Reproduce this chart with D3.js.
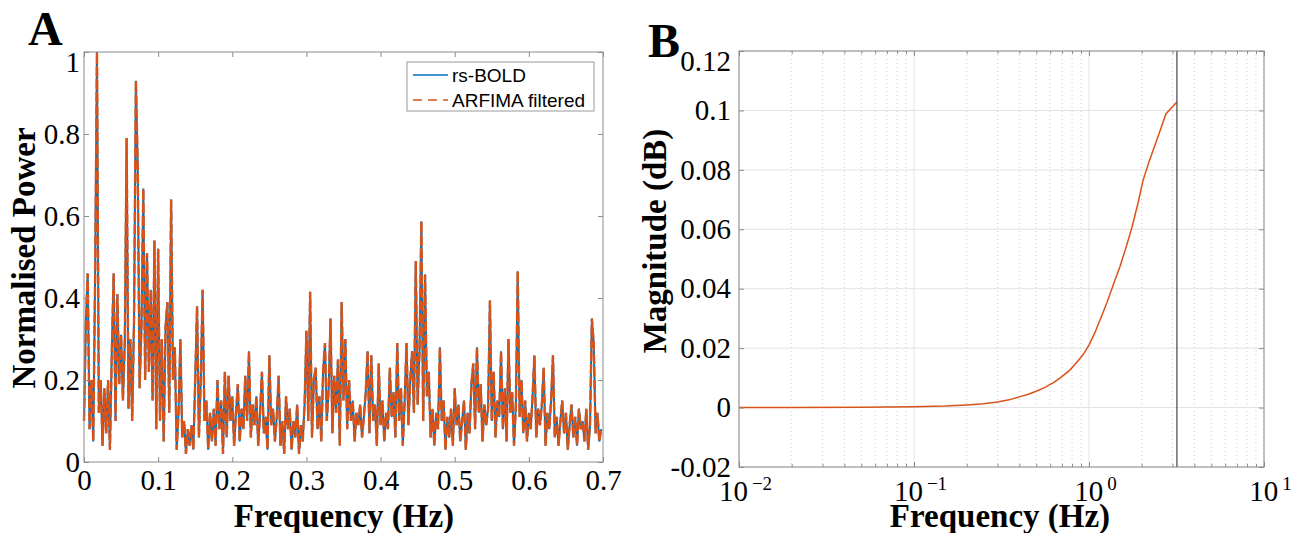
<!DOCTYPE html>
<html>
<head>
<meta charset="utf-8">
<script src="https://cdn.jsdelivr.net/npm/d3@7"></script>
<style>
	body { margin: 0; background: #fff; }
	svg { display: block; background: #fff; }
</style>
</head>
<body>
<svg id="canvas"></svg>
<script>
// ---- Panel A data: normalised power spectrum, one value per 0.0025 Hz bin ----
let freqStep = 0.0025;
let boldPower = [
	0.10, 0.34, 0.46, 0.08, 0.20, 0.05, 0.45, 1.00, 0.12, 0.20,
	0.04, 0.18, 0.07, 0.20, 0.03, 0.27, 0.46, 0.10, 0.41, 0.19,
	0.31, 0.15, 0.29, 0.79, 0.13, 0.30, 0.10, 0.35, 0.93, 0.715,
	0.18, 0.33, 0.667, 0.20, 0.51, 0.22, 0.42, 0.15, 0.54, 0.08,
	0.52, 0.10, 0.30, 0.05, 0.33, 0.39, 0.12, 0.64, 0.20, 0.28,
	0.03, 0.12, 0.30, 0.06, 0.10, 0.02, 0.08, 0.04, 0.09, 0.03,
	0.20, 0.38, 0.06, 0.20, 0.42, 0.10, 0.15, 0.03, 0.12, 0.05,
	0.13, 0.04, 0.20, 0.08, 0.15, 0.02, 0.22, 0.06, 0.21, 0.10,
	0.16, 0.04, 0.12, 0.19, 0.05, 0.13, 0.08, 0.21, 0.10, 0.27,
	0.06, 0.14, 0.09, 0.16, 0.04, 0.12, 0.22, 0.07, 0.11, 0.03,
	0.26, 0.09, 0.13, 0.05, 0.11, 0.21, 0.04, 0.10, 0.02, 0.16,
	0.08, 0.13, 0.03, 0.10, 0.06, 0.14, 0.02, 0.09, 0.05, 0.14,
	0.32, 0.10, 0.415, 0.06, 0.20, 0.23, 0.08, 0.16, 0.05, 0.22,
	0.29, 0.10, 0.18, 0.35, 0.07, 0.21, 0.12, 0.25, 0.04, 0.39,
	0.15, 0.30, 0.08, 0.20, 0.10, 0.15, 0.05, 0.12, 0.09, 0.14,
	0.06, 0.11, 0.17, 0.27, 0.07, 0.26, 0.10, 0.14, 0.04, 0.24,
	0.09, 0.15, 0.05, 0.12, 0.08, 0.23, 0.11, 0.17, 0.06, 0.29,
	0.10, 0.18, 0.04, 0.15, 0.29, 0.09, 0.20, 0.27, 0.12, 0.49,
	0.14, 0.27, 0.587, 0.10, 0.457, 0.16, 0.22, 0.06, 0.13, 0.04,
	0.12, 0.08, 0.28, 0.10, 0.15, 0.03, 0.11, 0.06, 0.13, 0.04,
	0.18, 0.09, 0.14, 0.05, 0.10, 0.15, 0.03, 0.12, 0.07, 0.19,
	0.24, 0.08, 0.28, 0.12, 0.19, 0.05, 0.14, 0.09, 0.13, 0.394,
	0.10, 0.22, 0.06, 0.15, 0.11, 0.27, 0.08, 0.18, 0.05, 0.30,
	0.12, 0.17, 0.04, 0.14, 0.465, 0.11, 0.20, 0.07, 0.15, 0.05,
	0.12, 0.08, 0.16, 0.26, 0.06, 0.13, 0.09, 0.14, 0.23, 0.04,
	0.12, 0.08, 0.15, 0.26, 0.06, 0.11, 0.04, 0.10, 0.15, 0.07,
	0.12, 0.03, 0.09, 0.14, 0.06, 0.11, 0.04, 0.13, 0.08, 0.10,
	0.05, 0.13, 0.03, 0.09, 0.35, 0.29, 0.07, 0.12, 0.05, 0.08
];
// the filtered series overlaps the original everywhere in the picture
let arfimaPower = boldPower.slice();

let xTicksA = [0, 0.1, 0.2, 0.3, 0.4, 0.5, 0.6, 0.7];
let yTicksA = [0, 0.2, 0.4, 0.6, 0.8, 1];
let legendLabels = ['rs-BOLD', 'ARFIMA filtered'];

// ---- Panel B data: ARFIMA filter magnitude response ----
let freqB = [0.01, 0.02, 0.05, 0.1, 0.15, 0.2, 0.25, 0.3, 0.35, 0.4, 0.45, 0.5, 0.56, 0.63, 0.7, 0.78, 0.86, 0.93, 1.0,
	1.08, 1.17, 1.27, 1.38, 1.5, 1.63, 1.76, 1.9, 2.04, 2.2, 2.38, 2.56, 2.75, 3.18];
let magB = [0.00003, 0.00005, 0.0001, 0.0003, 0.0005, 0.0009, 0.0013, 0.0019, 0.0026, 0.0036, 0.0045, 0.0055, 0.0068, 0.0085, 0.0104, 0.0127, 0.0155, 0.018, 0.021,
	0.0252, 0.0302, 0.0355, 0.0415, 0.0473, 0.054, 0.0607, 0.0685, 0.0766, 0.0826, 0.0883, 0.0935, 0.0988, 0.1028];
let nyquistB = 3.18;
let xTicksB = [0.01, 0.1, 1, 10];
let xExpB = ['\u22122', '\u22121', '0', '1'];
let yTicksB = [-0.02, 0, 0.02, 0.04, 0.06, 0.08, 0.1, 0.12];

let width = 1303;
let height = 533;
let blue = '#0072bd';
let orange = '#d95319';
let frameColor = '#8c8c8c';
let serif = "'Liberation Serif', 'Times New Roman', serif";

let canvas = d3.select('#canvas').attr('width', width).attr('height', height);

let fmt = d => (d === 0 ? '0' : String(+d.toFixed(2)));

// apply MATLAB-ish look to an axis group
let styleAxis = sel => {
	sel.attr('font-family', serif).attr('font-size', 29).attr('color', frameColor);
	sel.select('.domain').remove();
	sel.selectAll('.tick text').attr('fill', '#000');
};

// ================= Panel A =================
let xA = d3.scaleLinear().domain([0, 0.7]).range([84, 603]);
let yA = d3.scaleLinear().domain([0, 1]).range([462, 52]);

let drawPanelA = () => {
	let g = canvas.append('g');

	let lineA = d3.line().x((d, i) => xA(i * freqStep)).y(d => yA(d));

	g.append('path').datum(boldPower)
		.attr('d', lineA).attr('fill', 'none')
		.attr('stroke', blue).attr('stroke-width', 2);
	g.append('path').datum(arfimaPower)
		.attr('d', lineA).attr('fill', 'none')
		.attr('stroke', orange).attr('stroke-width', 2.4)
		.attr('stroke-dasharray', '10,3');

	// axes, ticks inward on all four sides
	g.append('g').attr('transform', `translate(0, ${yA(0)})`)
		.call(d3.axisBottom(xA).tickValues(xTicksA).tickFormat(fmt).tickSize(-5).tickPadding(7))
		.call(styleAxis);
	g.append('g').attr('transform', `translate(0, ${yA(1)})`)
		.call(d3.axisTop(xA).tickValues(xTicksA).tickFormat('').tickSize(-5))
		.call(styleAxis);
	let left = g.append('g').attr('transform', `translate(${xA(0)}, 0)`)
		.call(d3.axisLeft(yA).tickValues(yTicksA).tickFormat(fmt).tickSize(-5).tickPadding(4))
		.call(styleAxis);
	left.selectAll('.tick text').filter(d => d === 1).attr('y', 10);
	g.append('g').attr('transform', `translate(${xA(0.7)}, 0)`)
		.call(d3.axisRight(yA).tickValues(yTicksA).tickFormat('').tickSize(-5))
		.call(styleAxis);

	g.append('rect')
		.attr('x', xA(0)).attr('y', yA(1))
		.attr('width', xA(0.7) - xA(0)).attr('height', yA(0) - yA(1))
		.attr('fill', 'none').attr('stroke', frameColor);

	// legend
	let lg = g.append('g');
	lg.append('rect').attr('x', 407).attr('y', 62).attr('width', 187).attr('height', 49)
		.attr('fill', '#fff').attr('stroke', '#9a9a9a');
	legendLabels.forEach((lab, i) => {
		let y = 75 + i * 25;
		lg.append('line').attr('x1', 413).attr('x2', 448).attr('y1', y).attr('y2', y)
			.attr('stroke', i === 0 ? blue : orange).attr('stroke-width', 1.5)
			.attr('stroke-dasharray', i === 0 ? null : '9,6');
		lg.append('text').attr('x', 452).attr('y', y + 7)
			.attr('font-family', "'Liberation Sans', Arial, sans-serif").attr('font-size', 19)
			.text(lab);
	});

	// labels
	g.append('text').attr('x', 344).attr('y', 527).attr('text-anchor', 'middle')
		.attr('font-family', serif).attr('font-weight', 'bold').attr('font-size', 33)
		.text('Frequency (Hz)');
	g.append('text').attr('transform', 'translate(35, 258) rotate(-90)').attr('text-anchor', 'middle')
		.attr('font-family', serif).attr('font-weight', 'bold').attr('font-size', 33)
		.text('Normalised Power');
	g.append('text').attr('x', 28).attr('y', 45)
		.attr('font-family', serif).attr('font-weight', 'bold').attr('font-size', 48)
		.text('A');
};

// ================= Panel B =================
let xB = d3.scaleLog().domain([0.01, 10]).range([739, 1264]);
let yB = d3.scaleLinear().domain([-0.02, 0.12]).range([467, 51]);

let drawPanelB = () => {
	let g = canvas.append('g');
	let minorB = [];
	[0.01, 0.1, 1].forEach(dec => {
		for (let k = 2; k <= 9; k++) minorB.push(dec * k);
	});

	// grid
	g.append('g').selectAll('line').data(minorB).join('line')
		.attr('x1', d => xB(d)).attr('x2', d => xB(d))
		.attr('y1', yB(0.12)).attr('y2', yB(-0.02))
		.attr('stroke', '#cfcfcf').attr('stroke-dasharray', '1,3');
	g.append('g').selectAll('line').data(xTicksB).join('line')
		.attr('x1', d => xB(d)).attr('x2', d => xB(d))
		.attr('y1', yB(0.12)).attr('y2', yB(-0.02))
		.attr('stroke', '#e3e3e3');
	g.append('g').selectAll('line').data(yTicksB).join('line')
		.attr('x1', xB(0.01)).attr('x2', xB(10))
		.attr('y1', d => yB(d)).attr('y2', d => yB(d))
		.attr('stroke', '#e3e3e3');

	// filter response
	g.append('path').datum(freqB.map((f, i) => [f, magB[i]]))
		.attr('d', d3.line().x(d => xB(d[0])).y(d => yB(d[1])))
		.attr('fill', 'none').attr('stroke', orange).attr('stroke-width', 1.5);

	g.append('line')
		.attr('x1', xB(nyquistB)).attr('x2', xB(nyquistB))
		.attr('y1', yB(0.12)).attr('y2', yB(-0.02))
		.attr('stroke', '#444').attr('stroke-width', 1.2);

	// axes
	let bottom = g.append('g').attr('transform', `translate(0, ${yB(-0.02)})`)
		.call(d3.axisBottom(xB).tickValues(xTicksB).tickSize(-5).tickPadding(13))
		.call(styleAxis);
	bottom.selectAll('.tick text').each(function (d, i) {
		let t = d3.select(this);
		t.text(null).attr('x', 6);
		t.append('tspan').text('10');
		t.append('tspan').attr('dx', 4).attr('dy', '-0.55em').attr('font-size', 19).text(xExpB[i]);
	});
	g.append('g').attr('transform', `translate(0, ${yB(-0.02)})`)
		.call(d3.axisBottom(xB).tickValues(minorB).tickFormat('').tickSize(-3))
		.call(styleAxis);
	g.append('g').attr('transform', `translate(0, ${yB(0.12)})`)
		.call(d3.axisTop(xB).tickValues(xTicksB).tickFormat('').tickSize(-5))
		.call(styleAxis);
	g.append('g').attr('transform', `translate(0, ${yB(0.12)})`)
		.call(d3.axisTop(xB).tickValues(minorB).tickFormat('').tickSize(-3))
		.call(styleAxis);
	let left = g.append('g').attr('transform', `translate(${xB(0.01)}, 0)`)
		.call(d3.axisLeft(yB).tickValues(yTicksB).tickFormat(fmt).tickSize(-5).tickPadding(8))
		.call(styleAxis);
	left.selectAll('.tick text').filter(d => d === 0.12).attr('y', 10);
	g.append('g').attr('transform', `translate(${xB(10)}, 0)`)
		.call(d3.axisRight(yB).tickValues(yTicksB).tickFormat('').tickSize(-5))
		.call(styleAxis);

	g.append('rect')
		.attr('x', xB(0.01)).attr('y', yB(0.12))
		.attr('width', xB(10) - xB(0.01)).attr('height', yB(-0.02) - yB(0.12))
		.attr('fill', 'none').attr('stroke', frameColor);

	// labels
	g.append('text').attr('x', 1000).attr('y', 527).attr('text-anchor', 'middle')
		.attr('font-family', serif).attr('font-weight', 'bold').attr('font-size', 33)
		.text('Frequency (Hz)');
	g.append('text').attr('transform', 'translate(666, 241) rotate(-90)').attr('text-anchor', 'middle')
		.attr('font-family', serif).attr('font-weight', 'bold').attr('font-size', 33)
		.text('Magnitude (dB)');
	g.append('text').attr('x', 648).attr('y', 57)
		.attr('font-family', serif).attr('font-weight', 'bold').attr('font-size', 48)
		.text('B');
};

drawPanelA();
drawPanelB();
</script>
</body>
</html>
